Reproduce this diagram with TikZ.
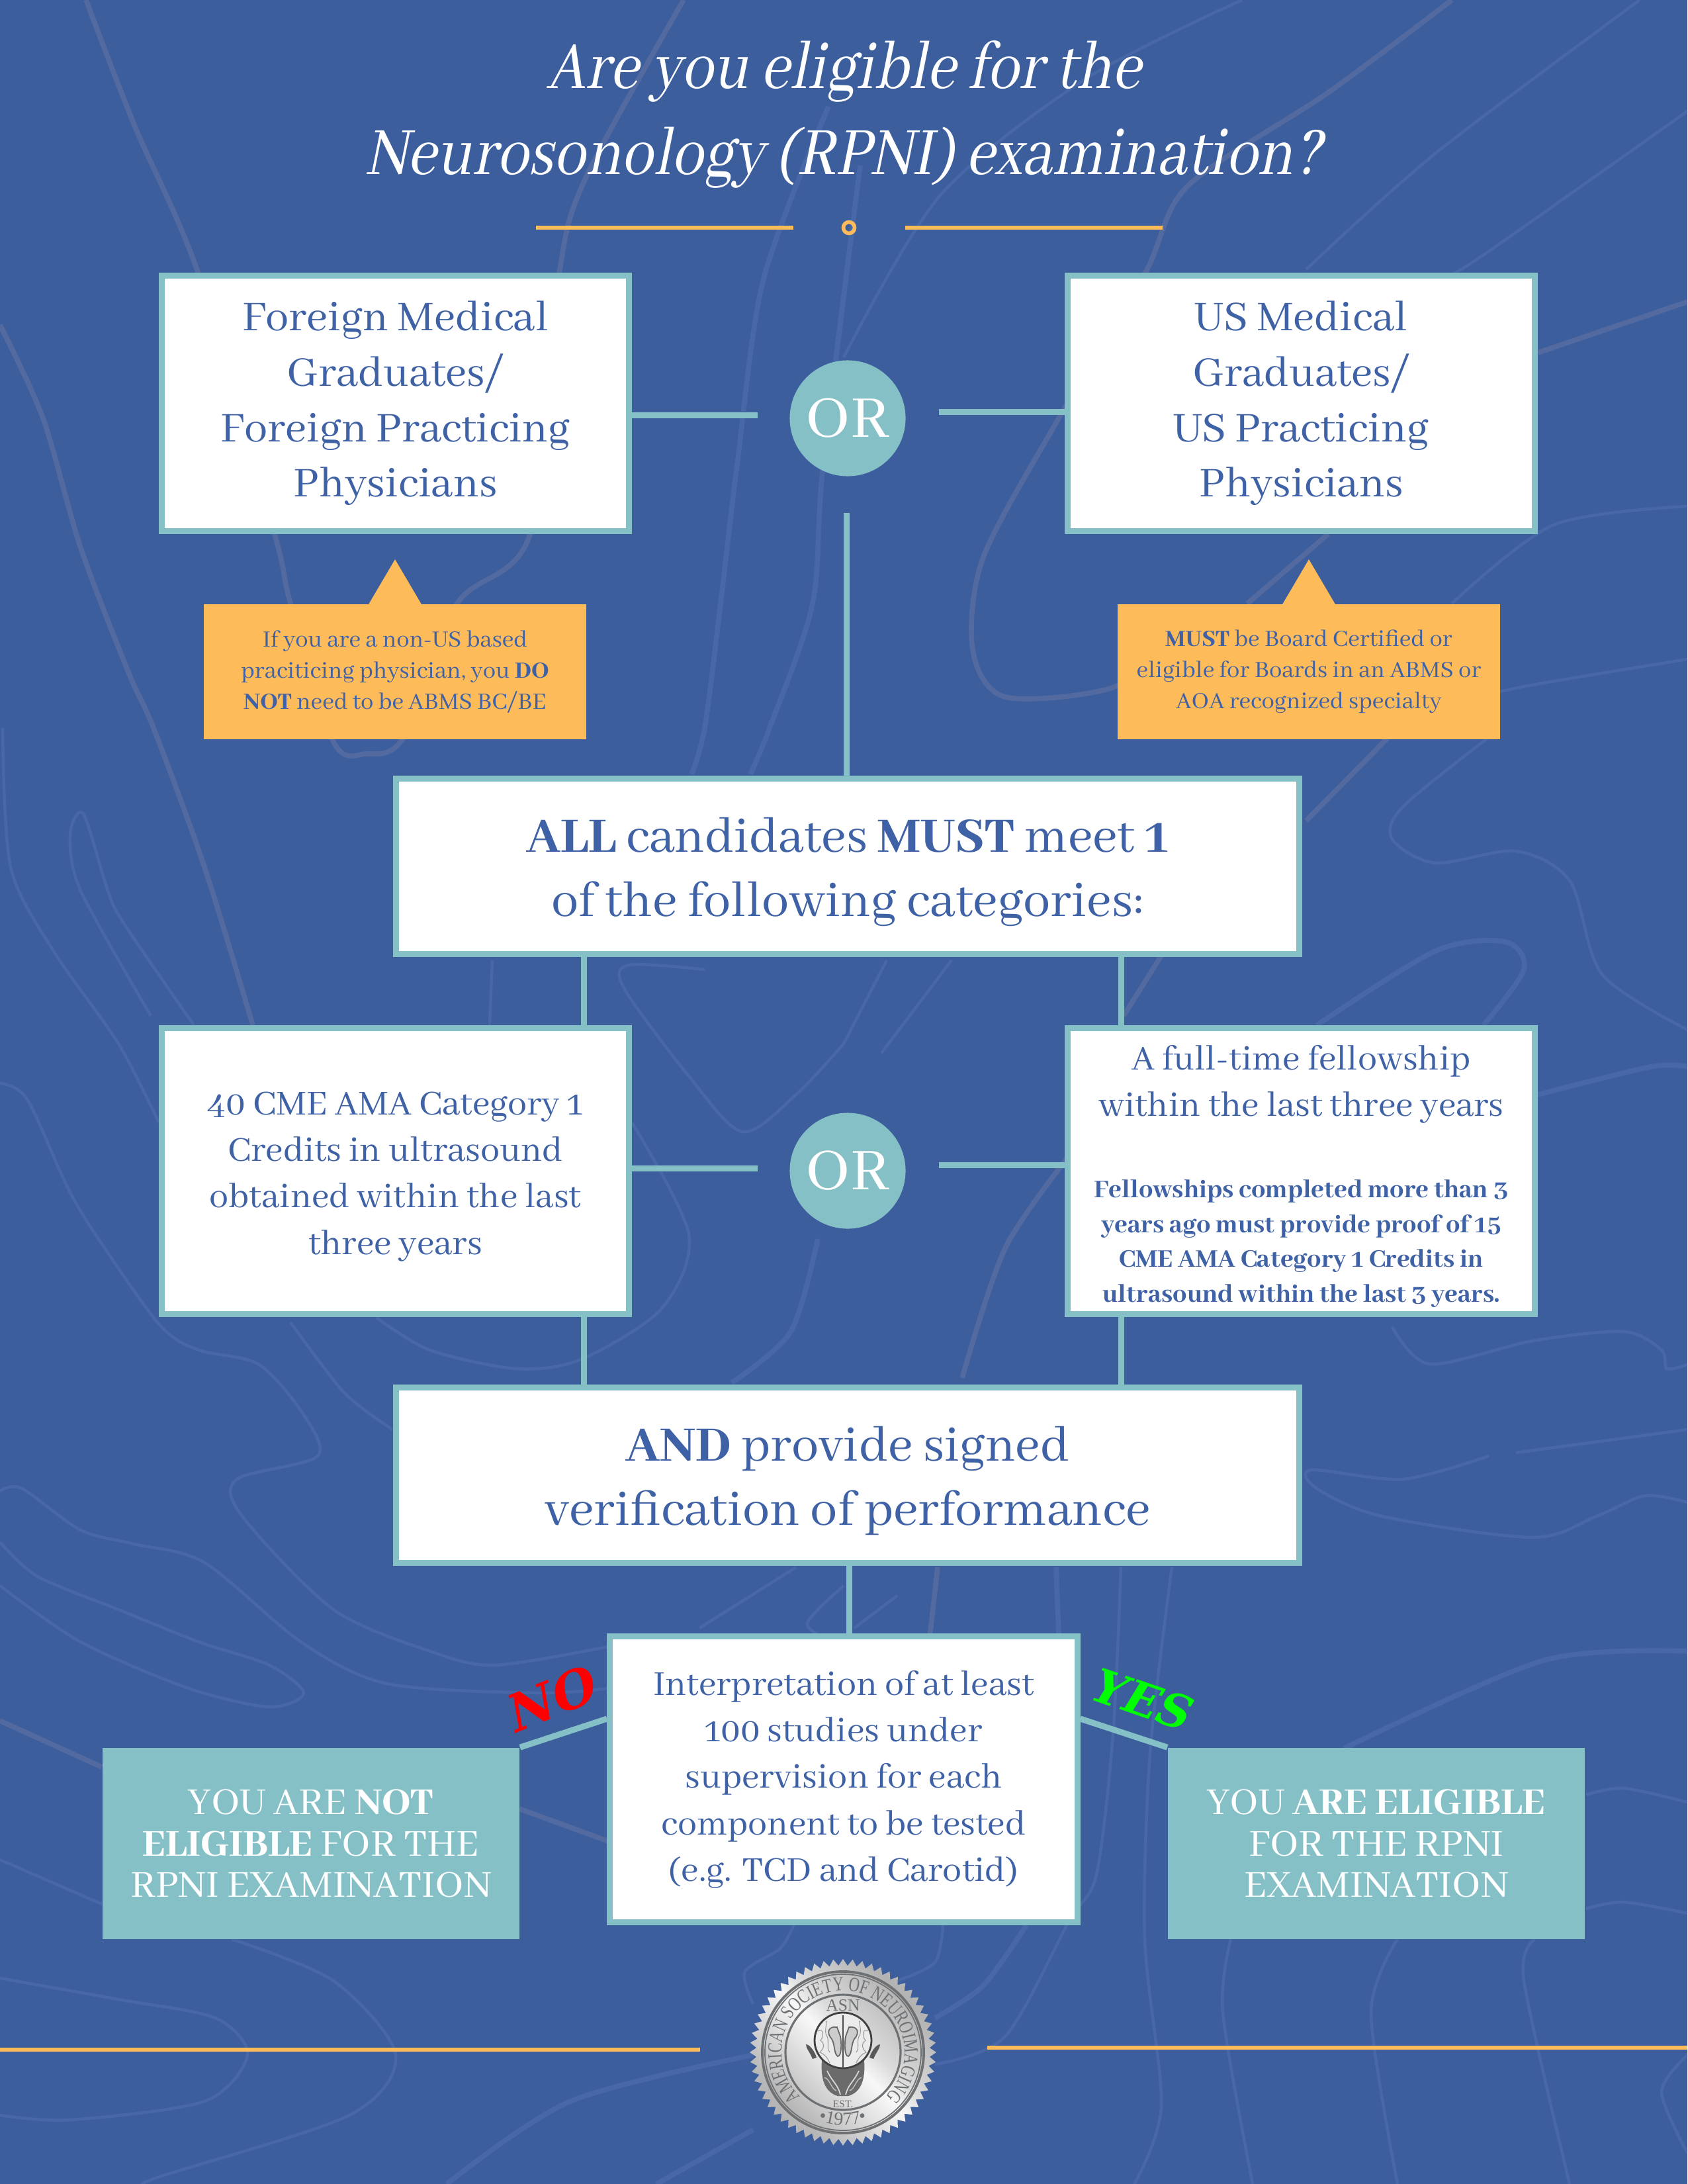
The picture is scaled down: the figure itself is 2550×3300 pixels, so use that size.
\documentclass[tikz,border=0pt]{standalone}
\usepackage{fontspec}
\usetikzlibrary{calc,decorations.text}
\setmainfont[BoldFont=Abhaya Libre ExtraBold,ItalicFont=Abhaya Libre,ItalicFeatures={FakeSlant=0.2,FakeStretch=0.86}]{Abhaya Libre}
\newfontfamily\sealfont{Liberation Serif}
\newfontfamily\sealnarrow[FakeStretch=0.75]{Liberation Serif}
\newfontfamily\stampfont[BoldFeatures={FakeSlant=0.22}]{DejaVu Serif}
\newcommand{\pushdown}[1]{\rule{0pt}{#1}}

\definecolor{bgblue}{HTML}{3C5E9C}
\definecolor{inkblue}{HTML}{3F62A6}
\definecolor{tealbox}{HTML}{85C0C6}
\definecolor{orangenote}{HTML}{FEBB5A}
\definecolor{swirlblue}{HTML}{4767A6}
\definecolor{swirlgrey}{HTML}{526AA0}
\definecolor{sealink}{HTML}{6E7174}
\pgfdeclarehorizontalshading{silver}{100bp}{color(0bp)=(black!38); color(30bp)=(black!28); color(44bp)=(black!10); color(50bp)=(black!3); color(56bp)=(black!14); color(72bp)=(black!30); color(100bp)=(black!16)}

\tikzset{
  frame/.style={draw=tealbox,line width=2.56pt,fill=white,inner sep=0pt,text=inkblue,align=center},
  gradbox/.style={frame,minimum width=7.06cm,minimum height=3.86cm,font=\fontsize{20}{23.8}\selectfont},
  credbox/.style={frame,minimum width=7.06cm,minimum height=4.32cm,font=\fontsize{16.5}{20}\selectfont},
  widebox/.style={frame,minimum width=13.65cm,minimum height=2.65cm,font=\fontsize{23.4}{27.6}\selectfont},
  orbubble/.style={circle,fill=tealbox,text=white,minimum size=1.75cm,inner sep=0pt,font=\fontsize{28}{30}\selectfont},
  notebox/.style={fill=orangenote,text=inkblue,minimum width=5.78cm,minimum height=2.04cm,inner sep=0pt,align=center,font=\fontsize{11}{13.4}\selectfont},
  resultbox/.style={fill=tealbox,text=white,minimum width=6.3cm,minimum height=2.89cm,inner sep=0pt,align=center,font=\fontsize{18}{17.8}\selectfont},
  link/.style={draw=tealbox,line width=2.56pt},
  rulegold/.style={draw=orangenote,line width=1.8pt},
  swirlthin/.style={draw=swirlblue,line width=1.3pt},
  swirlwide/.style={draw=swirlblue,line width=2.2pt},
  swirlgray/.style={draw=swirlgrey,line width=2.2pt},
  stamp/.style={font=\stampfont\bfseries\fontsize{22}{22}\selectfont},
}

\begin{document}
\begin{tikzpicture}[x=0.01cm,y=-0.01cm]
  \useasboundingbox (0,0) rectangle (2550,3300);
  \clip (0,0) rectangle (2550,3300);
  \fill[bgblue] (0,0) rectangle (2550,3300);

  % background swirls, top half
  \draw[swirlgray] plot[smooth] coordinates {(130,0) (203,189) (300,414) (415,807) (439,912) (504,1121) (553,1139) (610,1114) (691,912) (801,807) (845,414) (886,267) (1033,0)};
  \draw[swirlgray] plot[smooth] coordinates {(0,491) (65,632) (122,828) (195,1018) (232,1100) (309,1310) (382,1549)};
  \draw[swirlwide] plot[smooth] coordinates {(1252,161) (1154,421) (1114,702) (1089,912) (1065,1100) (1045,1170)};
  \draw[swirlwide] plot[smooth] coordinates {(1300,250) (1244,702) (1228,912) (1163,1100) (1134,1170)};
  \draw[swirlgray] plot[smooth] coordinates {(2194,0) (2007,140) (1795,281) (1730,414) (1600,632) (1486,842) (1470,982) (1519,1053) (1681,1039) (1800,960)};
  \draw[swirlthin] plot[smooth] coordinates {(1877,0) (1641,119) (1421,295) (1275,540)};
  \draw[swirlthin] plot[smooth] coordinates {(2478,0) (2169,232) (1974,407)};
  \draw[swirlthin] plot[smooth] coordinates {(2550,168) (2251,379) (2194,414)};
  \draw[swirlgray] plot[smooth] coordinates {(2550,456) (2324,533)};
  \draw[swirlthin] plot[smooth] coordinates {(2550,765) (2348,793) (2194,912)};
  \draw[swirlthin] plot[smooth] coordinates {(2550,996) (2332,1032) (2267,1045)};
  \draw[swirlgray] plot[smooth] coordinates {(2007,807) (1885,912)};
  \draw[swirlgray] plot[smooth] coordinates {(2112,1100) (1974,1240)};
  \draw[swirlthin] plot[smooth] coordinates {(2250,1114) (2120,1219) (2104,1268) (2169,1304) (2291,1286) (2373,1332) (2421,1472) (2550,1556)};
  \draw[swirlwide] plot[smooth] coordinates {(1990,1549) (2169,1437) (2275,1423) (2303,1465) (2242,1549)};
  \draw[swirlwide] plot[smooth] coordinates {(2324,1654) (2494,1612) (2550,1612)};
  \draw[swirlthin] plot[smooth] coordinates {(2104,2005) (2161,2061) (2316,2026) (2454,2012) (2511,2040) (2519,2068) (2550,2062)};
  \draw[swirlgray] plot[smooth] coordinates {(1454,2082) (1519,1886) (1616,1746)};
  \draw[swirlthin] plot[smooth] coordinates {(1438,1451) (1332,1591)};
  \draw[swirlthin] plot[smooth] coordinates {(1340,1451) (1275,1577)};
  \draw[swirlgray] plot[smooth] coordinates {(1755,1444) (1698,1535)};
  \draw[swirlthin] plot[smooth] coordinates {(2550,2160) (2291,2195)};

  % background swirls, left side
  \draw[swirlthin] plot[smooth] coordinates {(4,1100) (16,1310) (81,1437) (179,1577) (240,1696)};
  \draw[swirlthin] plot[smooth] coordinates {(228,1535) (122,1346) (106,1261) (126,1230) (163,1346) (187,1395) (293,1549)};
  \draw[swirlthin] plot[smooth] coordinates {(0,1637) (41,1661) (106,1802) (163,1893) (244,2005) (301,2040) (390,2061) (455,2132) (480,2200) (358,2235) (366,2291) (504,2432) (650,2495) (748,2516) (919,2488)};
  \draw[swirlthin] plot[smooth] coordinates {(1065,1465) (951,1458) (943,1493) (1041,1626) (1122,1710) (1203,1654) (1275,1577)};
  \draw[swirlthin] plot[smooth] coordinates {(955,1696) (1041,1865) (1000,1977) (878,2054) (780,2068) (650,2040) (569,1991)};
  \draw[swirlthin] plot[smooth] coordinates {(740,1549) (744,1451)};
  \draw[swirlthin] plot[smooth] coordinates {(439,1998) (520,2104) (593,2160)};
  \draw[swirlwide] plot[smooth] coordinates {(1236,1872) (1195,2012) (1106,2089)};

  % background swirls, bottom
  \draw[swirlthin] plot[smooth] coordinates {(0,2253) (33,2249) (122,2312) (203,2333) (309,2361) (455,2481) (585,2544) (813,2558) (919,2551)};
  \draw[swirlthin] plot[smooth] coordinates {(0,2330) (57,2382) (179,2432) (301,2481) (407,2516) (459,2558) (407,2579) (285,2551) (122,2481) (0,2396)};
  \draw[swirlgray] plot[smooth] coordinates {(0,2600) (154,2670)};
  \draw[swirlgray] plot[smooth] coordinates {(785,2733) (919,2782)};
  \draw[swirlthin] plot[smooth] coordinates {(0,2810) (154,2877)};
  \draw[swirlthin] plot[smooth] coordinates {(350,2930) (504,2993) (598,3105) (528,3196) (244,3288) (220,3300)};
  \draw[swirlthin] plot[smooth] coordinates {(0,2989) (179,3021) (325,3049) (374,3105) (309,3175) (106,3203) (0,3196)};
  \draw[swirlwide] plot[smooth] coordinates {(675,3300) (862,3175) (1138,3105)};
  \draw[swirlwide] plot[smooth] coordinates {(992,3300) (1138,3218)};
  \draw[swirlthin] plot[smooth] coordinates {(1203,2368) (1057,2460)};
  \draw[swirlthin] plot[smooth] coordinates {(1275,2396) (1220,2453) (1260,2481)};
  \draw[swirlthin] plot[smooth] coordinates {(1203,2902) (1179,2944) (1126,2979) (1138,3028)};
  \draw[swirlthin] plot[smooth] coordinates {(2250,2200) (2120,2235) (1982,2221) (1990,2249) (2088,2291) (2316,2323) (2413,2291) (2486,2260) (2550,2270)};
  \draw[swirlwide] plot[smooth] coordinates {(2550,2495) (2332,2509) (2031,2642)};
  \draw[swirlthin] plot[smooth] coordinates {(2397,2712) (2454,2702) (2550,2723)};
  \draw[swirlthin] plot[smooth] coordinates {(2397,2884) (2454,2874) (2550,2891)};
  \draw[swirlthin] plot[smooth] coordinates {(2112,2930) (2072,3042) (2112,3300)};
  \draw[swirlthin] plot[smooth] coordinates {(2320,2930) (2303,2993) (2372,3300)};
  \draw[swirlthin] plot[smooth] coordinates {(1860,2930) (1848,3042) (1893,3300)};
  \draw[swirlthin] plot[smooth] coordinates {(1771,2368) (1738,2649) (1730,2930) (1755,3182) (1714,3300)};
  \draw[swirlthin] plot[smooth] coordinates {(1694,2368) (1682,2621) (1657,2832) (1616,2902) (1519,3077) (1413,3119)};
  \draw[swirlwide] plot[smooth] coordinates {(1596,2368) (1600,2470)};
  \draw[swirlwide] plot[smooth] coordinates {(1551,2909) (1486,3000) (1413,3049)};
  \draw[swirlgray] plot[smooth] coordinates {(1417,2368) (1405,2474)};
  \draw[swirlthin] plot[smooth] coordinates {(1356,2411) (1291,2460)};
  \draw[swirlthin] plot[smooth] coordinates {(1425,2909) (1413,2965) (1356,2993)};
  \draw[swirlthin] plot[smooth] coordinates {(2550,3105) (2511,3161) (2550,3253)};

  % title
  \node[text=white,align=center,font=\itshape\fontsize{32}{37}\selectfont] (title) at (1275,173)
    {Are you eligible for the\\Neurosonology (RPNI) examination?};
  \coordinate (ruleleft) at (810,344);
  \coordinate (ruleright) at (1757,344);
  \node[circle,draw=orangenote,line width=1.6pt,minimum size=0.17cm,inner sep=0pt] (ruledot) at (1283,344) {};
  \draw[rulegold] (ruleleft) -- ++(389,0);
  \draw[rulegold] (ruleright) -- ++(-389,0);

  % top row
  \node[gradbox] (gradleft) at (597.5,609.5) {Foreign Medical\\Graduates/\\Foreign Practicing\\Physicians};
  \node[gradbox] (gradright) at (1966.5,609.5) {US Medical\\Graduates/\\US Practicing\\Physicians};
  \node[orbubble] (ortop) at (1281,632) {OR};
  \coordinate (stubleft) at (1145,627);
  \coordinate (stubright) at (1419,622);
  \coordinate (stubdown) at (1279,775);
  \draw[link] (gradleft.east |- stubleft) -- (stubleft);
  \draw[link] (stubright) -- (gradright.west |- stubright);

  % notes under the top row
  \node[notebox] (noteleft) at (597,1015) {If you are a non-US based\\praciticing physician, you \textbf{DO}\\\textbf{NOT} need to be ABMS BC/BE};
  \node[notebox] (noteright) at (1978,1015) {\textbf{MUST} be Board Certified or\\eligible for Boards in an ABMS or\\AOA recognized specialty};
  \foreach \note in {noteleft,noteright}
    \fill[orangenote] ($(\note.north)+(-40,1)$) -- ($(\note.north)+(0,-67)$) -- ($(\note.north)+(40,1)$) -- cycle;

  % middle
  \node[widebox] (allbox) at (1281,1309) {\pushdown{19.5pt}\textbf{ALL} candidates \textbf{MUST} meet \textbf{1}\\of the following categories:};
  \draw[link] (stubdown) -- (stubdown |- allbox.north);
  \node[credbox] (credleft) at (597.5,1769.5) {\pushdown{14.5pt}40 CME AMA Category 1\\Credits in ultrasound\\obtained within the last\\three years};
  \node[credbox] (credright) at (1966.5,1769.5) {\pushdown{15pt}A full-time fellowship\\within the last three years\\[15pt]
    {\fontsize{12}{14.8}\selectfont\bfseries Fellowships completed more than 3}\\[-5pt]
    {\fontsize{12}{14.8}\selectfont\bfseries years ago must provide proof of 15}\\[-5pt]
    {\fontsize{12}{14.8}\selectfont\bfseries CME AMA Category 1 Credits in}\\[-5pt]
    {\fontsize{12}{14.8}\selectfont\bfseries ultrasound within the last 3 years.}};
  \node[orbubble] (ormid) at (1281,1769) {OR};
  \coordinate (midstubleft) at (1145,1765);
  \coordinate (midstubright) at (1419,1760);
  \draw[link] (credleft.east |- midstubleft) -- (midstubleft);
  \draw[link] (midstubright) -- (credright.west |- midstubright);

  \node[widebox] (andbox) at (1281,2229) {\pushdown{19.5pt}\textbf{AND} provide signed\\verification of performance};
  \coordinate (legleft) at (882,1500);
  \coordinate (legright) at (1694,1500);
  \foreach \leg in {legleft,legright} {
    \draw[link] (\leg |- allbox.south) -- (\leg |- credleft.north);
    \draw[link] (\leg |- credleft.south) -- (\leg |- andbox.north);
  }

  % bottom row
  \node[credbox] (interpbox) at (1275,2688.5) {Interpretation of at least\\100 studies under\\supervision for each\\component to be tested\\(e.g. TCD and Carotid)};
  \node[resultbox] (notbox) at (470,2785.5) {YOU ARE \textbf{NOT}\\\textbf{ELIGIBLE} FOR THE\\RPNI EXAMINATION};
  \node[resultbox] (yesbox) at (2080,2785.5) {YOU \textbf{ARE ELIGIBLE}\\FOR THE RPNI\\EXAMINATION};
  \coordinate (branch) at (0,2597);
  \coordinate (legmid) at (1283,2400);
  \draw[link] (legmid |- andbox.south) -- (legmid |- interpbox.north);
  \draw[link] (notbox.north east) -- (interpbox.west |- branch);
  \draw[link] (interpbox.east |- branch) -- (yesbox.north west);
  \node[stamp,text=red,rotate=22] (nolabel) at (829,2568) {NO};
  \node[stamp,text=green,rotate=-19,font=\stampfont\bfseries\fontsize{20}{20}\selectfont] (yeslabel) at (1722,2566) {YES};

  % foot rules
  \coordinate (footleft) at (0,3097);
  \coordinate (footright) at (2550,3094);
  \draw[rulegold] (footleft) -- ++(1058,0);
  \draw[rulegold] (footright) -- ++(-1058,0);

  % seal
  \begin{scope}[shift={(1274,3101)},x=0.01cm,y=0.01cm]
    \shade[shading=silver,shading angle=45] plot[samples=121,domain=0:360] (\x:{136+5*cos(60*mod(\x,6))}) -- cycle;
    \draw[sealink,line width=1.1pt] (0,0) circle (122);
    \draw[sealink,line width=0.5pt] (0,0) circle (118);
    \draw[sealink,line width=0.9pt] (0,0) circle (87);
    \path[decorate,decoration={text along path,text align=center,
      text={|\sealnarrow\fontsize{8.6}{9}\selectfont\color{sealink}|AMERICAN SOCIETY OF NEUROIMAGING}}]
      (242:93) arc[start angle=242,end angle=-62,radius=93];
    \path[decorate,decoration={text along path,text align=center,
      text={|\sealfont\fontsize{8}{8}\selectfont\color{sealink}|•1977•}}]
      (240:110) arc[start angle=240,end angle=300,radius=110];
    \node[text=sealink,font=\sealfont\fontsize{7.3}{8}\selectfont,inner sep=0pt] (sealasn) at (0,71) {ASN};
    \node[text=sealink,font=\sealfont\fontsize{4.5}{5}\selectfont,inner sep=0pt] (sealest) at (0,-78) {EST.};
    % brain
    \fill[black!58] (-32,-12) .. controls (-34,-40) and (-28,-60) .. (-8,-66) -- (8,-66) .. controls (28,-60) and (34,-40) .. (32,-12) -- cycle;
    \foreach \s in {1,-1} {
      \fill[black!65] (\s*56,12) .. controls (\s*50,12) and (\s*42,0) .. (\s*40,-8) -- (\s*46,-10) .. controls (\s*50,0) and (\s*56,6) .. cycle;
      \draw[black!15,line width=0.5pt] (\s*24,-28) .. controls (\s*16,-45) and (\s*8,-48) .. (\s*4,-64);
      \draw[black!25,line width=0.4pt] (\s*28,-38) .. controls (\s*20,-40) and (\s*18,-55) .. (\s*10,-58);
    }
    \draw[black!75,fill=black!8,line width=0.8pt] (0,18) ellipse (43 and 42);
    \foreach \s in {1,-1} {
      \draw[black!60,fill=black!20,line width=0.5pt] (\s*9,38) .. controls (\s*22,40) and (\s*26,30) .. (\s*17,20) .. controls (\s*12,12) and (\s*14,-2) .. (\s*8,-6) .. controls (\s*2,-6) and (\s*2,14) .. (\s*4,24) -- cycle;
      \draw[black!40,line width=0.3pt] (\s*38,32) .. controls (\s*30,38) and (\s*28,24) .. (\s*34,18) .. controls (\s*26,12) and (\s*30,4) .. (\s*35,0) .. controls (\s*26,-4) and (\s*24,-8) .. (\s*20,-16);
      \draw[black!40,line width=0.3pt] (\s*26,46) .. controls (\s*22,52) and (\s*30,30) .. (\s*24,24) .. controls (\s*20,14) and (\s*26,8) .. (\s*20,0);
    }
    \draw[black!70,line width=0.7pt] (0,56) -- (0,-24);
  \end{scope}
\end{tikzpicture}
\end{document}
